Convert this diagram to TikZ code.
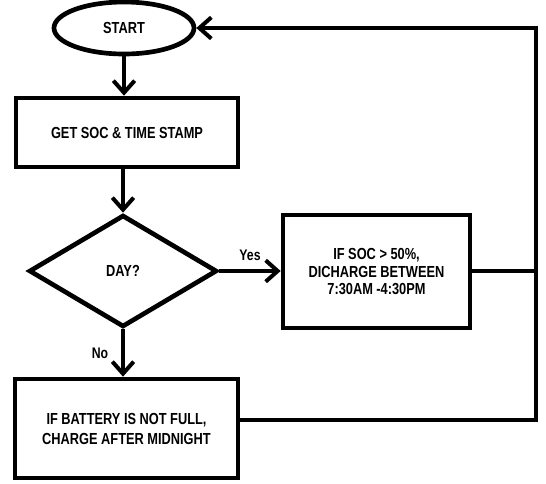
\documentclass[tikz,border=0pt]{standalone}
\usepackage{fontspec}
\setmainfont{Liberation Sans}[FakeStretch=0.8]
\usetikzlibrary{shapes.geometric,arrows.meta}
\begin{document}
\begin{tikzpicture}[x=0.75pt,y=-0.75pt,
  every node/.style={font=\bfseries\fontsize{12}{13}\selectfont},
  shp/.style={draw=black,line width=3.5pt,inner sep=0pt,align=center},
  flowbox/.style={shp,rectangle},
  conn/.style={line width=3.5pt},
  arr/.style={conn,-{Straight Barb[length=9pt,width=16pt,line width=3pt]}},
  lbl/.style={font=\bfseries\fontsize{11.5}{13}\selectfont}]
\useasboundingbox[fill=white] (0,0) rectangle (546,483);
\node[shp,ellipse,minimum width=105pt,minimum height=39pt] (start) at (124,28) {START};
\node[flowbox,minimum width=166.5pt,minimum height=51.75pt] (get) at (127,132.5) {GET SOC \& TIME STAMP};
\node[shp,diamond,minimum width=141pt,minimum height=84pt] (day) at (123,271) {DAY?};
\node[flowbox,minimum width=140.25pt,minimum height=84.75pt] (dis) at (376.5,271.5) {IF SOC > 50\%,\\DICHARGE BETWEEN\\7:30AM -4:30PM};
\node[flowbox,minimum width=167.25pt,minimum height=74.25pt,font=\bfseries\fontsize{12}{15}\selectfont] (chg) at (126.5,428.5) {IF BATTERY IS NOT FULL,\\CHARGE AFTER MIDNIGHT};
\coordinate (tr) at (536,28);
\coordinate (br) at (536,420);
\draw[arr] (start.south) -- (start.south |- get.north);
\draw[arr] (get.south -| day.north) -- (day.north);
\draw[arr] (day.east) -- (day.east -| dis.west) node[lbl,midway,above=3pt] (yes) {Yes};
\draw[arr] (day.south) -- (day.south |- chg.north) node[lbl,midway,left=6pt] (no) {No};
\draw[conn] (dis.east |- day.east) -- (tr |- day.east);
\draw[arr,line join=miter] (chg.east |- br) -- (br) -- (tr) -- (start.east);
\end{tikzpicture}
\end{document}
